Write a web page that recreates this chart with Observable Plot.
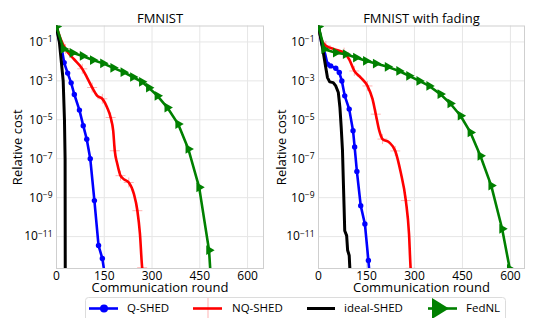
<!DOCTYPE html>
<html><head><meta charset="utf-8">
<script src="https://cdn.jsdelivr.net/npm/d3@7"></script>
<script src="https://cdn.jsdelivr.net/npm/@observablehq/plot@0.6"></script>
<style>
html,body{margin:0;padding:0;background:#fff;}
#wrap{position:relative;width:538px;height:318px;overflow:hidden;font-family:"Open Sans",sans-serif;}
#left,#right{position:absolute;top:0;width:269px;height:298px;}
#left{left:0}#right{left:269px}
#left svg,#right svg{max-width:none;}
#legend{position:absolute;left:0;top:289px;}
</style></head><body>
<div id="wrap"><div id="left"></div><div id="right"></div>
<svg id="legend" width="538" height="29" font-family="Open Sans" font-size="11.5">
  <rect x="85.5" y="8.5" width="420" height="30" rx="3" fill="#fff" stroke="#dcdcdc"/>
  <line x1="89" x2="118" y1="19.5" y2="19.5" stroke="#0000ff" stroke-width="2.6"/>
  <circle cx="104" cy="19.5" r="4" fill="#0000ff"/>
  <text x="127" y="20" dominant-baseline="middle">Q-SHED</text>
  <line x1="208" x2="208" y1="9" y2="31" stroke="#ff0000" stroke-opacity="0.3" stroke-width="1"/>
  <line x1="193" x2="222" y1="19.5" y2="19.5" stroke="#ff0000" stroke-width="2.6"/>
  <text x="232" y="20" dominant-baseline="middle">NQ-SHED</text>
  <line x1="307" x2="335" y1="19.5" y2="19.5" stroke="#000" stroke-width="3"/>
  <text x="344" y="20" dominant-baseline="middle">ideal-SHED</text>
  <line x1="428" x2="457" y1="19.5" y2="19.5" stroke="#008000" stroke-width="2.6"/>
  <path d="M449,19.5 L432,9 L432,30 Z" fill="#008000"/>
  <text x="466" y="20" dominant-baseline="middle">FedNL</text>
</svg>
</div>
<script>
// ---- data (rounds, log10 of relative cost) ----
const xTicks = [0, 150, 300, 450, 600];
const yTicks = [1e-1, 1e-3, 1e-5, 1e-7, 1e-9, 1e-11];

// FMNIST
const fmQ_round = [0, 8, 17, 24, 35, 46, 56, 72, 84, 95, 106, 119, 132, 144, 152];
const fmQ_log = [-0.2, -0.9, -1.4, -2.06, -2.6, -3.1, -3.7, -4.5, -5.3, -6.0, -7.0, -9.15, -11.46, -12.13, -13];
const fmNQ_round = [0, 13, 28, 54, 81, 96, 112, 128, 144, 159, 170, 178, 183, 191, 201, 214, 227, 243, 254, 262, 269, 273];
const fmNQ_log = [-0.2, -0.85, -1.36, -1.87, -2.38, -2.83, -3.34, -3.77, -3.92, -4.37, -4.88, -5.56, -6.59, -7.27, -7.87, -8.08, -8.22, -8.81, -9.67, -10.85, -12.6, -13];
const fmIdeal_round = [0, 4, 9, 15, 21, 25, 27, 27.5];
const fmIdeal_log = [-0.2, -0.6, -1, -2, -3, -5, -7, -13];
const fmFed_round = [0, 22, 50, 82, 114, 146, 178, 210, 240, 268, 290, 317, 348, 382, 414, 448, 479, 484];
const fmFed_log = [-0.2, -1.36, -1.56, -1.72, -1.93, -2.1, -2.33, -2.55, -2.8, -3.05, -3.35, -3.77, -4.37, -5.22, -6.5, -8.47, -11.7, -13];

// FMNIST with fading
const fdQ_round = [0, 10, 21, 28, 38, 54, 65, 73, 82, 96, 108, 113, 120, 132, 145, 156, 160];
const fdQ_log = [-0.2, -1.12, -1.63, -2.14, -2.23, -2.35, -2.57, -3.0, -3.77, -4.45, -5.56, -6.4, -7.65, -9.41, -10.35, -12.23, -13];
const fdNQ_round = [0, 7, 23, 49, 80, 96, 112, 132, 153, 169, 179, 190, 200, 221, 240, 257, 273, 283, 288, 290];
const fdNQ_log = [-0.2, -0.78, -1.2, -1.37, -1.55, -1.89, -2.49, -2.83, -3.26, -3.94, -4.71, -5.56, -5.99, -6.16, -6.6, -7.7, -9.15, -10.86, -12.63, -13];
const fdIdeal_round = [0, 12.5, 21, 28, 35, 46, 54, 62, 67, 71, 75, 77, 80, 82, 88, 91, 96, 98, 99];
const fdIdeal_log = [-0.2, -1.29, -2.14, -2.83, -3.05, -3.09, -3.26, -3.6, -4.37, -5.39, -6.59, -7.78, -9.5, -10.7, -10.95, -11.7, -11.97, -12.63, -13];
const fdFed_round = [0, 18, 54, 85, 117, 148, 179, 216, 252, 283, 315, 346, 381, 412, 444, 475, 506, 540, 574, 598, 600];
const fdFed_log = [-0.2, -1.37, -1.55, -1.63, -1.8, -1.97, -2.11, -2.28, -2.49, -2.74, -3.0, -3.26, -3.68, -4.16, -4.79, -5.65, -6.85, -8.38, -10.6, -12.66, -13];

const rows = (xs, ls) => xs.map((x, i) => ({x, y: 10 ** ls[i], i, n: xs.length}));

const sup = {"-": "\u2212", "0": "0", "1": "1", "2": "2", "3": "3", "4": "4", "5": "5", "6": "6", "7": "7", "8": "8", "9": "9"};
const fmt = d => "10^" + Math.round(Math.log10(d));

const thinPlus = {draw(ctx, size) { const r = Math.sqrt(size / Math.PI); ctx.moveTo(-r, 0); ctx.lineTo(r, 0); ctx.moveTo(0, -r); ctx.lineTo(0, r); }};

function panel({title, domainX, ml, mr, ylabelDx, q, nq, ideal, fed}) {
  const lineOpts = {x: "x", y: "y", clip: true, strokeWidth: 2.6};
  const lab = {fontSize: 13, textAnchor: "middle", lineAnchor: "middle"};
  const svg = Plot.plot({
    width: 269, height: 298,
    marginLeft: ml, marginRight: mr, marginTop: 25.5, marginBottom: 30,
    style: {fontFamily: "Open Sans", fontSize: "12px", color: "#000", background: "transparent"},
    x: {domain: domainX},
    y: {type: "log", domain: [10 ** -12.64, 10 ** -0.18]},
    marks: [
      Plot.gridX(xTicks, {stroke: "#e6e6e6", strokeOpacity: 1}),
      Plot.gridY(yTicks, {stroke: "#e6e6e6", strokeOpacity: 1}),
      Plot.frame({stroke: "#cfcfcf"}),
      Plot.axisX(xTicks, {tickSize: 0, tickPadding: 3, label: null, fontSize: 12}),
      Plot.axisY(yTicks, {tickSize: 0, tickPadding: 4, label: null, fontSize: 12, tickFormat: fmt}),
      Plot.line(q, {...lineOpts, stroke: "#0000ff"}),
      Plot.dot(q.filter(d => d.i > 2 && d.i < d.n - 1), {x: "x", y: "y", r: 2.7, fill: "#0000ff", clip: true}),
      Plot.line(nq, {...lineOpts, stroke: "#ff0000", curve: "monotone-x"}),
      Plot.dot(nq.filter(d => d.i % 2 === 0 && d.i > 1 && d.i < d.n - 1), {x: "x", y: "y", r: 5, symbol: thinPlus, stroke: "#ff0000", strokeOpacity: 0.3, strokeWidth: 1, fill: "none", clip: true}),
      Plot.line(ideal, {...lineOpts, stroke: "#000", strokeWidth: 3}),
      Plot.line(fed, {...lineOpts, stroke: "#008000"}),
      Plot.dot(fed.filter(d => d.i < d.n - 1), {x: "x", y: "y", r: 3.6, symbol: "triangle", rotate: 90, fill: "#008000", clip: true}),
      Plot.text([title], {...lab, frameAnchor: "top", dy: -7}),
      Plot.text(["Communication round"], {...lab, frameAnchor: "bottom", dy: 19.5}),
      Plot.text(["Relative cost"], {...lab, frameAnchor: "left", dx: ylabelDx, rotate: -90})
    ]
  });
  // superscript exponents on y tick labels
  svg.querySelectorAll("text").forEach(t => {
    const m = /^10\^(-?\d+)$/.exec(t.textContent);
    if (!m) return;
    const ns = "http://www.w3.org/2000/svg";
    t.textContent = "";
    const a = document.createElementNS(ns, "tspan"); a.textContent = "10";
    const b = document.createElementNS(ns, "tspan");
    b.textContent = m[1].split("").map(c => sup[c]).join("");
    b.setAttribute("dy", "-0.45em"); b.setAttribute("font-size", "8.5px");
    t.append(a, b);
  });
  return svg;
}

document.getElementById("left").append(panel({
  title: "FMNIST", domainX: [0, 650], ml: 56, mr: 6, ylabelDx: -39,
  q: rows(fmQ_round, fmQ_log), nq: rows(fmNQ_round, fmNQ_log),
  ideal: rows(fmIdeal_round, fmIdeal_log), fed: rows(fmFed_round, fmFed_log)
}));
document.getElementById("right").append(panel({
  title: "FMNIST with fading", domainX: [0, 644], ml: 49, mr: 14, ylabelDx: -36.5,
  q: rows(fdQ_round, fdQ_log), nq: rows(fdNQ_round, fdNQ_log),
  ideal: rows(fdIdeal_round, fdIdeal_log), fed: rows(fdFed_round, fdFed_log)
}));
</script>
</body></html>
